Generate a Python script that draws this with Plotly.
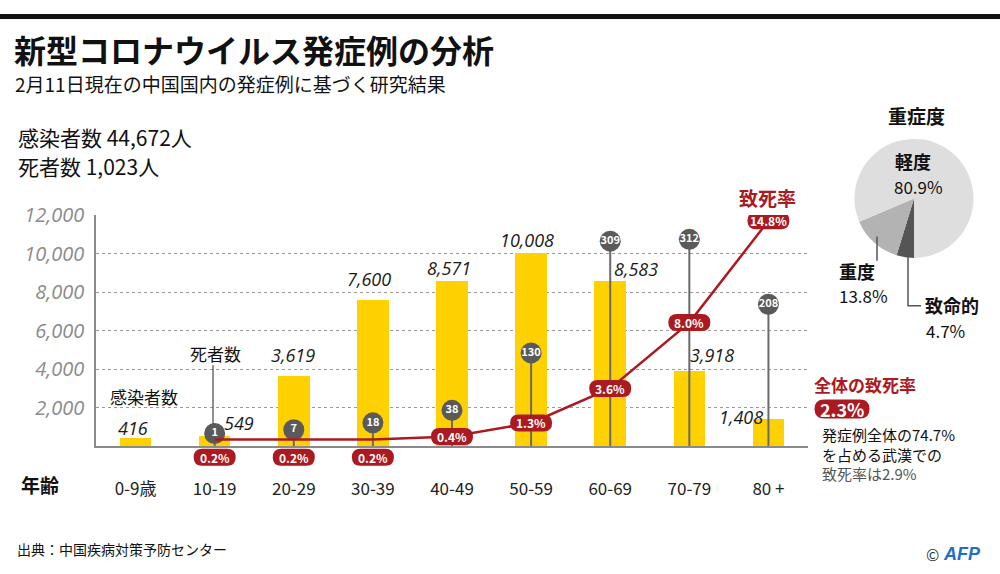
import plotly.graph_objects as go

# ---------------- data ----------------
categories = ["0-9歳", "10-19", "20-29", "30-39", "40-49", "50-59", "60-69", "70-79", "80 +"]
cases = [416, 549, 3619, 7600, 8571, 10008, 8583, 3918, 1408]
deaths = [None, 1, 7, 18, 38, 130, 309, 312, 208]
fatality = [None, 0.2, 0.2, 0.2, 0.4, 1.3, 3.6, 8.0, 14.8]
case_ticks = [2000, 4000, 6000, 8000, 10000, 12000]
severity_labels = ["致命的", "重度", "軽度"]
severity_values = [4.7, 13.8, 80.9]
total_cases = 44672
total_deaths = 1023
overall_rate = 2.3
wuhan_share = 74.7
wuhan_rate = 2.9

# ---------------- style ----------------
W, H = 1000, 574
L, R, T, B = 96, 808, 206, 443
JP = "Noto Sans CJK JP"
NUM = "Open Sans"
RED = "#AC1A21"
YEL = "#FFD100"
DARK = "#5a5a5a"
case_dx = [-3, 24, -1, -4, -3, -4, 26, 23, -27]
case_dy = [10, 13, 21, 21, 13, 13, 12, 16, 2]
below_axis = [False, True, True, True, False, False, False, False, False]
BELOW_DY = -11
DEATH_RANGE = [-19.4, 351]
RATE_RANGE = [-0.254, 15.19]


def px(x):
    return x / W


def py(y):
    return 1 - y / H


def pill_path(w, h, dy=0):
    r = h / 2
    a, b = w / 2, h / 2
    return (f"M {-a + r},{dy - b} L {a - r},{dy - b} Q {a},{dy - b} {a},{dy} "
            f"Q {a},{dy + b} {a - r},{dy + b} L {-a + r},{dy + b} "
            f"Q {-a},{dy + b} {-a},{dy} Q {-a},{dy - b} {-a + r},{dy - b} Z")


fig = go.Figure()
xs = list(range(len(categories)))

fig.add_trace(go.Bar(x=xs, y=cases, width=0.4, marker=dict(color=YEL, line=dict(width=0)),
                     hoverinfo="skip"))

# death stems
sx, sy = [], []
for i, d in enumerate(deaths):
    if d is None:
        continue
    sx += [i, i, None]
    sy += [DEATH_RANGE[0], d, None]
fig.add_trace(go.Scatter(x=sx, y=sy, yaxis="y2", mode="lines",
                         line=dict(color="#6a6a6a", width=2), hoverinfo="skip", cliponaxis=False))
dxs = [i for i, d in enumerate(deaths) if d is not None]
dys = [d for d in deaths if d is not None]
fig.add_trace(go.Scatter(x=dxs, y=dys, yaxis="y2", mode="markers+text",
                         marker=dict(size=21, color=DARK),
                         text=[str(d) for d in dys], textposition="middle center",
                         textfont=dict(family=JP, size=11, color="white", weight="bold"),
                         hoverinfo="skip", cliponaxis=False))

# fatality line
rxs = [i for i, r in enumerate(fatality) if r is not None]
rys = [r for r in fatality if r is not None]
fig.add_trace(go.Scatter(x=rxs, y=rys, yaxis="y3", mode="lines",
                         line=dict(color=RED, width=2.5), hoverinfo="skip", cliponaxis=False))

# pie
fig.add_trace(go.Pie(labels=severity_labels, values=severity_values, sort=False,
                     direction="clockwise", rotation=180, textinfo="none", hoverinfo="skip",
                     marker=dict(colors=["#555555", "#b3b3b3", "#dedede"], line=dict(width=0)),
                     domain=dict(x=[px(853), px(975)], y=[py(250), py(128)]),
                     showlegend=False))

shapes = []
annotations = []

# pills for fatality rates
for i, r in enumerate(fatality):
    if r is None:
        continue
    if below_axis[i]:
        yref, yval, dy = "y domain", 0, BELOW_DY
    else:
        yref, yval, dy = "y3", r, 0
    shapes.append(dict(type="path", xref="x", yref=yref, xsizemode="pixel", ysizemode="pixel",
                       xanchor=i, yanchor=yval, path=pill_path(42, 17, dy),
                       fillcolor=RED, line=dict(width=0), layer="above"))
    annotations.append(dict(x=i, y=yval, xref="x", yref=yref, yshift=dy, showarrow=False,
                            xanchor="center", yanchor="middle",
                            text=f"<b>{r:.1f}%</b>", font=dict(family=JP, size=12, color="white")))

# case labels
for i, v in enumerate(cases):
    annotations.append(dict(x=i, y=v, xref="x", yref="y", xshift=case_dx[i], yshift=case_dy[i],
                            yanchor="middle", showarrow=False, text=f"{v:,}",
                            font=dict(family=NUM, size=18, color="#1a1a1a", style="italic")))


def txt(x, y, text, size, color="#111", anchor="left", family=JP, bold=False, **kw):
    annotations.append(dict(x=px(x), y=py(y), xref="paper", yref="paper", xanchor=anchor,
                            yanchor="middle", showarrow=False, borderpad=0,
                            text=f"<b>{text}</b>" if bold else text,
                            font=dict(family=family, size=size, color=color), **kw))


txt(13, 36, "新型コロナウイルス発症例の分析", 32, bold=True)
txt(14, 71, "2月11日現在の中国国内の発症例に基づく研究結果", 19)
txt(17, 126, f"感染者数 {total_cases:,}人", 21)
txt(17, 156, f"死者数 {total_deaths:,}人", 21)
txt(144, 392, "感染者数", 17, anchor="center")
txt(215, 348, "死者数", 17, anchor="center")
txt(40, 482, "年齢", 19, anchor="center", bold=True)
txt(767, 188, "致死率", 19, color=RED, anchor="center", bold=True)
txt(813, 380, "全体の致死率", 17, color=RED, bold=True)
txt(821, 431, f"発症例全体の{wuhan_share}%", 15)
txt(821, 451, "を占める武漢での", 15)
txt(821, 471, f"致死率は{wuhan_rate}%", 15, color="#555")
txt(916, 104, "重症度", 19, anchor="center", bold=True)
txt(894, 151, "軽度", 18, bold=True)
txt(893, 177, f"{severity_values[2]}%", 17)
txt(838, 263, "重度", 18, bold=True)
txt(838, 289, f"{severity_values[1]}%", 17)
txt(924, 298, "致命的", 18, bold=True)
txt(925, 324, f"{severity_values[0]}%", 17)
txt(16, 548, "出典：中国疾病対策予防センター", 14)
txt(940, 554, "©", 16, color="#333", anchor="right")
txt(942, 554, "<i>AFP</i>", 18, color="#1f6fc5", bold=True, family="Liberation Sans")

# overall pill
shapes.append(dict(type="path", xref="paper", yref="paper", xsizemode="pixel", ysizemode="pixel",
                   xanchor=px(842), yanchor=py(405), path=pill_path(55, 19),
                   fillcolor=RED, line=dict(width=0), layer="above"))
txt(842, 405, f"{overall_rate}%", 18, color="white", anchor="center", bold=True)

# leader lines
shapes.append(dict(type="line", xref="paper", yref="paper", x0=px(213), x1=px(213),
                   y0=py(360), y1=py(420), line=dict(color="#222", width=1)))
shapes.append(dict(type="line", xref="paper", yref="paper", x0=px(877), x1=px(877),
                   y0=py(228), y1=py(253), line=dict(color="#555", width=1.5)))
shapes.append(dict(type="path", xref="paper", yref="paper",
                   path=f"M {px(908)},{py(248)} L {px(908)},{py(299)} L {px(921)},{py(299)}",
                   line=dict(color="#555", width=1.5)))
# top bar
shapes.append(dict(type="rect", xref="paper", yref="paper", x0=0, x1=1, y0=py(5), y1=1,
                   fillcolor="#111", line=dict(width=0)))

fig.update_layout(
    width=W, height=H, margin=dict(l=0, r=0, t=0, b=0),
    paper_bgcolor="white", plot_bgcolor="white", showlegend=False, bargap=0,
    xaxis=dict(domain=[px(L), px(R)], range=[-0.5, 8.5], tickvals=xs, ticktext=categories,
               showline=True, linecolor="#8a8a8a", linewidth=1.5, showgrid=False,
               zeroline=False, ticks="", ticklabelstandoff=27,
               tickfont=dict(family=JP, size=17, color="#222")),
    yaxis=dict(domain=[py(B), py(T)], range=[0, 12000], tickvals=case_ticks,
               ticktext=[f"{v:,}" for v in case_ticks], showline=True, linecolor="#8a8a8a",
               linewidth=1.5, showgrid=True, gridcolor="#9a9a9a", griddash="dot", gridwidth=1.3,
               zeroline=False, ticks="", ticklabelstandoff=6,
               tickfont=dict(family=NUM, size=20, color="#8c8c8c", style="italic")),
    yaxis2=dict(overlaying="y", range=DEATH_RANGE, visible=False),
    yaxis3=dict(overlaying="y", range=RATE_RANGE, visible=False),
    shapes=shapes, annotations=annotations,
)

fig.write_html("out.html", config={"displayModeBar": False},
               post_script="document.body.style.margin='0';")
